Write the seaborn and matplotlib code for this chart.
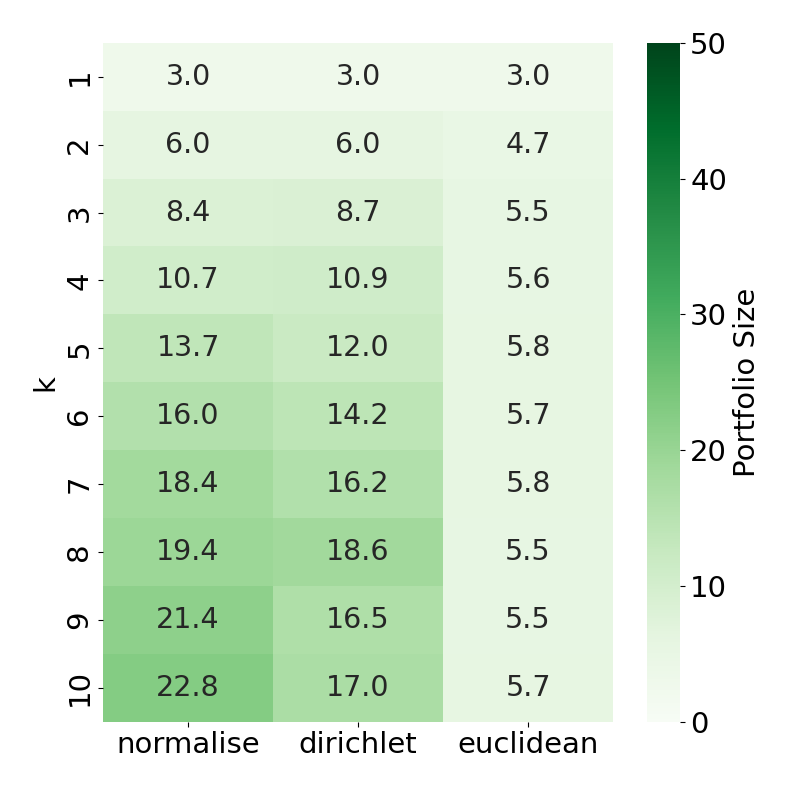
import numpy as np
import pandas as pd
import matplotlib
matplotlib.use("Agg")
import matplotlib.pyplot as plt
import seaborn as sns

# portfolio size per k and method
k_values = [1, 2, 3, 4, 5, 6, 7, 8, 9, 10]
methods = ['normalise', 'dirichlet', 'euclidean']
normalise = [3.0, 6.0, 8.4, 10.7, 13.7, 16.0, 18.4, 19.4, 21.4, 22.8]
dirichlet = [3.0, 6.0, 8.7, 10.9, 12.0, 14.2, 16.2, 18.6, 16.5, 17.0]
euclidean = [3.0, 4.7, 5.5, 5.6, 5.8, 5.7, 5.8, 5.5, 5.5, 5.7]

df = pd.DataFrame({'normalise': normalise, 'dirichlet': dirichlet,
                   'euclidean': euclidean}, index=k_values)
df.index.name = 'k'

fs = 21
plt.rcParams['font.size'] = fs

fig = plt.figure(figsize=(7.93, 7.93), dpi=100)
ax = fig.add_axes([0.13, 0.09, 0.643, 0.856])
cax = fig.add_axes([0.816, 0.09, 0.042, 0.856])
sns.heatmap(df, annot=True, fmt='.1f', cmap='Greens', vmin=0, vmax=50,
            ax=ax, cbar_ax=cax, annot_kws={'fontsize': 20.5},
            cbar_kws={'label': 'Portfolio Size'})
ax.set_yticklabels(ax.get_yticklabels(), rotation=90, va='center')
ax.set_xticklabels(ax.get_xticklabels(), rotation=0)
ax.set_ylabel('k', fontsize=fs)
ax.set_xlabel('')
ax.tick_params(labelsize=fs)
cax.tick_params(labelsize=fs)
cax.yaxis.label.set_size(fs)
plt.savefig('out.png', dpi=100)
